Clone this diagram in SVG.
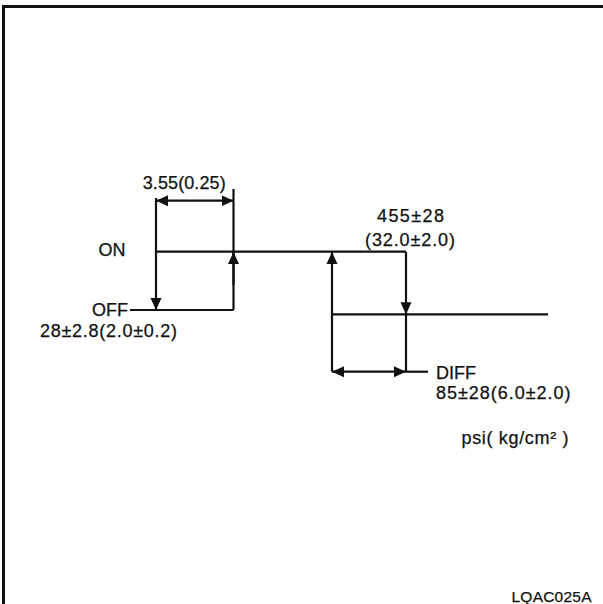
<svg xmlns="http://www.w3.org/2000/svg" width="603" height="604" viewBox="0 0 603 604">
<style>
.ln{stroke:#111;stroke-width:2.2;fill:none}
.t{font-family:"Liberation Sans",Arial,sans-serif;font-size:18px;fill:#111;stroke:#111;stroke-width:0.25}
.s{font-size:15.5px}
</style>
<defs>
<marker id="ah" markerUnits="userSpaceOnUse" markerWidth="12" markerHeight="12" viewBox="0 0 12 12" refX="12" refY="6" orient="auto-start-reverse">
<path d="M0,0.5 L12,6 L0,11.5 z" fill="#111"/>
</marker>
</defs>
<rect width="603" height="604" fill="#fff"/>
<g id="frame">
<path d="M3.5,604 V6.5 H603" stroke="#111" stroke-width="3" fill="none"/>
</g>
<g id="connectors">
<path class="ln" d="M156,200.7 H233.5" marker-start="url(#ah)" marker-end="url(#ah)"/>
<path class="ln" d="M156,198 V310" marker-end="url(#ah)"/>
<path class="ln" d="M233.5,189 V310"/>
<path class="ln" d="M233.5,285 V252" marker-end="url(#ah)"/>
<path class="ln" d="M156,251.7 H406"/>
<path class="ln" d="M130,310 H233.5"/>
<path class="ln" d="M332,371.7 V252" marker-end="url(#ah)"/>
<path class="ln" d="M406,252 V314.3" marker-end="url(#ah)"/>
<path class="ln" d="M406,314 V371.7"/>
<path class="ln" d="M332,314.3 H548"/>
<path class="ln" d="M332,371.7 H406" marker-start="url(#ah)" marker-end="url(#ah)"/>
<path class="ln" d="M406,371.7 H428"/>
</g>
<g id="label-hys"><text class="t" x="142.7" y="189" textLength="83">3.55(0.25)</text></g>
<g id="label-on"><text class="t" x="98.5" y="256">ON</text></g>
<g id="label-off"><text class="t" x="92" y="315.5">OFF</text>
<text class="t" x="40" y="336.5" textLength="137">28±2.8(2.0±0.2)</text></g>
<g id="label-high"><text class="t" x="377" y="221.5" textLength="67">455±28</text>
<text class="t" x="365" y="246" textLength="90">(32.0±2.0)</text></g>
<g id="label-diff"><text class="t" x="436" y="378.5">DIFF</text>
<text class="t" x="436" y="398.5" textLength="134.5">85±28(6.0±2.0)</text></g>
<g id="label-unit"><text class="t" x="461.5" y="444" textLength="107">psi( kg/cm² )</text></g>
<g id="label-code"><text class="t s" x="511.5" y="602" textLength="80">LQAC025A</text></g>
</svg>
